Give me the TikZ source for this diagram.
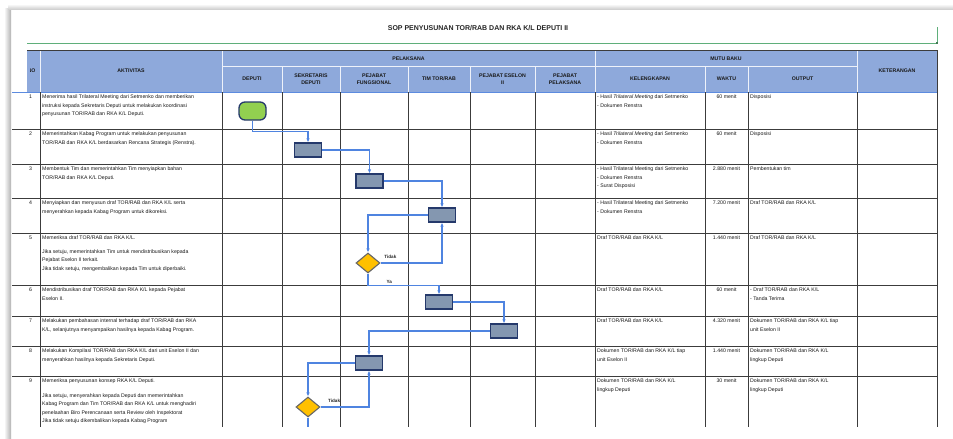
\documentclass[tikz,border=0pt]{standalone}
\usepackage{fontspec}
\setmainfont{Liberation Sans}
\usetikzlibrary{shapes.geometric,arrows.meta}
\definecolor{hdrblue}{HTML}{8EA9DB}
\definecolor{gridgray}{HTML}{3C3C3C}
\definecolor{flowblue}{HTML}{4F84E0}
\definecolor{boxfill}{HTML}{8497B0}
\definecolor{boxline}{HTML}{25396B}
\definecolor{decfill}{HTML}{FFC000}
\definecolor{startfill}{HTML}{92D050}
\definecolor{titlegreen}{HTML}{5FAF7A}
\tikzset{
  hdr/.style={font=\fontsize{5.2}{6.5}\selectfont\bfseries, align=center,
    text=black!90, inner sep=0pt},
  cell/.style={font=\fontsize{5.2}{8.4}\selectfont, align=left,
    anchor=north west, inner sep=0pt, text=black!90},
  gridline/.style={draw=gridgray, line width=1pt},
  hdrline/.style={draw=white!85!hdrblue, line width=0.8pt},
  task/.style={draw=boxline, fill=boxfill, line width=1.3pt,
    minimum width=27pt, minimum height=14pt, inner sep=0pt},
  decision/.style={diamond, draw=black!60, fill=decfill, line width=1.1pt,
    minimum width=24pt, minimum height=20pt, inner sep=0pt},
  startnode/.style={rounded corners=6pt, draw=boxline, fill=startfill,
    line width=1.3pt, minimum width=27pt, minimum height=18pt},
  flow/.style={draw=flowblue, line width=1.1pt, -{Latex[length=4pt,width=3.5pt]}},
  flowlabel/.style={font=\fontsize{4.6}{5}\selectfont\bfseries, text=black!85, inner sep=1pt},
}
% one body row: id, top, no, aktivitas, kelengkapan, waktu, output
\newcommand\soprow[7]{%
  \node[cell] (no#1) at (29,#2+3) {#3};
  \node[cell] (akt#1) at (42,#2+3) {#4};
  \node[cell] (kel#1) at (597,#2+3) {#5};
  \node[cell, anchor=north, align=center] (wkt#1) at (726.5,#2+3) {#6};
  \node[cell] (out#1) at (750,#2+3) {#7};
}

\begin{document}
\begin{tikzpicture}[x=1pt,y=-1pt]
\useasboundingbox (0,0) rectangle (953,439);
\fill[white] (0,0) rectangle (953,439);
\shade[left color=white, right color=black!30] (4,8) rectangle (11,439);
\shade[top color=white, bottom color=black!18] (8,4) rectangle (953,9);

\node[font=\fontsize{7}{8}\selectfont\bfseries, text=black!85] (title) at (478,28)
  {SOP PENYUSUNAN TOR/RAB DAN RKA K/L DEPUTI II};
\draw[titlegreen, line width=0.9pt] (27,43) -- (937,43) -- (937,27);
\fill[titlegreen!70!black] (935.8,41.8) rectangle (938.2,44.2);

% header
\fill[hdrblue] (27,50) rectangle (937,92);
\draw[hdrline] (222,66) -- (857,66);
\foreach \x in {40,222,595,857}
  \draw[hdrline] (\x,50) -- (\x,92);
\foreach \x in {282,340,408,470,535,705,748}
  \draw[hdrline] (\x,66) -- (\x,92);
\draw[gridline] (27,50) -- (937,50) -- (937,92);
\draw[draw=flowblue!80!hdrblue, line width=1pt] (12,92) -- (937,92);

\begin{scope}
  \clip (30.2,50) rectangle (40,92);
  \node[hdr] (hno) at (31.5,71) {NO};
\end{scope}
\node[hdr] (hakt) at (131,71) {AKTIVITAS};
\node[hdr] (hpel) at (408.5,58.5) {PELAKSANA};
\node[hdr] (hdep) at (252,79) {DEPUTI};
\node[hdr] (hsek) at (311,79) {SEKRETARIS\\DEPUTI};
\node[hdr] (hfun) at (374,79) {PEJABAT\\FUNGSIONAL};
\node[hdr] (htim) at (439,79) {TIM TOR/RAB};
\node[hdr] (hes) at (502.5,79) {PEJABAT ESELON\\II};
\node[hdr] (hpp) at (565,79) {PEJABAT\\PELAKSANA};
\node[hdr] (hmut) at (726,58.5) {MUTU BAKU};
\node[hdr] (hkel) at (650,79) {KELENGKAPAN};
\node[hdr] (hwkt) at (726.5,79) {WAKTU};
\node[hdr] (hout) at (802.5,79) {OUTPUT};
\node[hdr] (hket) at (897,71) {KETERANGAN};

% body grid
\foreach \y in {129,164,198,233,285,316,346,376}
  \draw[gridline] (12,\y) -- (937,\y);
\foreach \x in {40,222,282,340,408,470,535,595,705,748,857,937}
  \draw[gridline] (\x,92) -- (\x,427);

% body rows
\soprow{1}{92}{1}{Menerima hasil Trilateral Meeting dari Setmenko dan memberikan\\
  instruksi kepada Sekretaris Deputi untuk melakukan koordinasi\\
  penyusunan TOR/RAB dan RKA K/L Deputi.}
  {- Hasil \textit{Trilateral Meeting} dari Setmenko\\- Dokumen Renstra}{60 menit}{Disposisi}
\soprow{2}{129}{2}{Memerintahkan Kabag Program untuk melakukan penyusunan\\
  TOR/RAB dan RKA K/L berdasarkan Rencana Strategis (Renstra).}
  {- Hasil \textit{Trilateral Meeting} dari Setmenko\\- Dokumen Renstra}{60 menit}{Disposisi}
\soprow{3}{164}{3}{Membentuk Tim dan memerintahkan Tim menyiapkan bahan\\
  TOR/RAB dan RKA K/L Deputi.}
  {- Hasil Trilateral Meeting dari Setmenko\\- Dokumen Renstra\\- Surat Disposisi}
  {2.880 menit}{Pembentukan tim}
\soprow{4}{198}{4}{Menyiapkan dan menyusun draf TOR/RAB dan RKA K/L serta\\
  menyerahkan kepada Kabag Program untuk dikoreksi.}
  {- Hasil Trilateral Meeting dari Setmenko\\- Dokumen Renstra}{7.200 menit}{Draf TOR/RAB dan RKA K/L}
\soprow{5}{233}{5}{Memeriksa draf TOR/RAB dan RKA K/L.\\[5pt]
  Jika setuju, memerintahkan Tim untuk mendistribusikan kepada\\
  Pejabat Eselon II terkait.\\
  Jika tidak setuju, mengembalikan kepada Tim untuk diperbaiki.}
  {Draf TOR/RAB dan RKA K/L}{1.440 menit}{Draf TOR/RAB dan RKA K/L}
\soprow{6}{285}{6}{Mendistribusikan draf TOR/RAB dan RKA K/L kepada Pejabat\\
  Eselon II.}
  {Draf TOR/RAB dan RKA K/L}{60 menit}{- Draf TOR/RAB dan RKA K/L\\- Tanda Terima}
\soprow{7}{316}{7}{Melakukan pembahasan internal terhadap draf TOR/RAB dan RKA\\
  K/L, selanjutnya menyampaikan hasilnya kepada Kabag Program.}
  {Draf TOR/RAB dan RKA K/L}{4.320 menit}{Dokumen TOR/RAB dan RKA K/L tiap\\unit Eselon II}
\soprow{8}{346}{8}{Melakukan Kompilasi TOR/RAB dan RKA K/L dari unit Eselon II dan\\
  menyerahkan hasilnya kepada Sekretaris Deputi.}
  {Dokumen TOR/RAB dan RKA K/L tiap\\unit Eselon II}{1.440 menit}
  {Dokumen TOR/RAB dan RKA K/L\\lingkup Deputi}
\soprow{9}{376}{9}{Memeriksa penyusunan konsep RKA K/L Deputi.\\[6pt]
  Jika setuju, menyerahkan kepada Deputi dan memerintahkan\\
  Kabag Program dan Tim TOR/RAB dan RKA K/L untuk menghadiri\\
  penelaahan Biro Perencanaan serta Review oleh Inspektorat\\
  Jika tidak setuju dikembalikan kepada Kabag Program}
  {Dokumen TOR/RAB dan RKA K/L\\lingkup Deputi}{30 menit}
  {Dokumen TOR/RAB dan RKA K/L\\lingkup Deputi}

% flow
\node[startnode] (start) at (252.5,111) {};
\node[task] (t2) at (308,150) {};
\node[task] (t3) at (369.5,181) {};
\node[task] (t4) at (442,215) {};
\node[decision] (d5) at (368,263) {};
\node[task] (t6) at (439,302) {};
\node[task] (t7) at (504,331) {};
\node[task] (t8) at (369,363) {};
\node[decision] (d9) at (308,407) {};
\coordinate (d9out) at (308,427);

\draw[flow] (start.south) -- ++(0,11) -| (t2.north);
\draw[flow] (t2.east) -| (t3.north);
\draw[flow] (t3.east) -| (t4.north);
\draw[flow] (t4.west) -| (d5.north);
\draw[flow] (d5.east) -| node[flowlabel, above, pos=0.08, yshift=3pt] {Tidak} (t4.south);
\draw[flow] (d5.south) -- ++(0,12) -| node[flowlabel, above, pos=0.15] {Ya} (t6.north);
\draw[flow] (t6.east) -| (t7.north);
\draw[flow] (t7.west) -| (t8.north);
\draw[flow] (t8.west) -| (d9.north);
\draw[flow] (d9.east) -| node[flowlabel, above, pos=0.14, yshift=3pt] {Tidak} (t8.south);
\draw[flow, -] (d9.south) -- (d9out);
\end{tikzpicture}
\end{document}
